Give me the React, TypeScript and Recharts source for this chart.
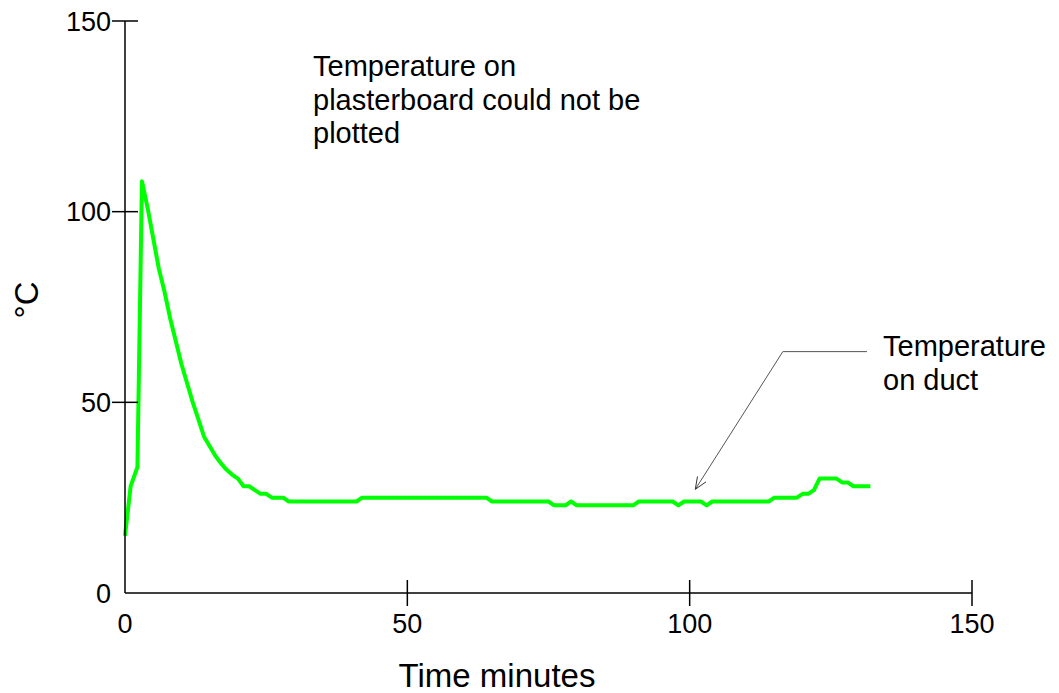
import { LineChart, Line, XAxis, YAxis, ReferenceLine } from "recharts";

const TIME = [0, 1, 2.2, 3, 4, 5, 6, 7, 8, 9, 10, 11, 12, 13, 14, 15, 16, 17, 18, 19, 20, 21, 22, 23, 24, 25, 26, 28, 29, 41, 42, 64, 65, 75, 76, 78, 79, 80, 90, 91, 97, 98, 99, 102, 103, 104, 114, 115, 119, 120, 121, 122, 123, 126, 127, 128, 129, 132];
const TEMP = [15, 28, 33, 108, 101, 93, 85, 79, 72, 66, 60, 55, 50, 45.5, 41, 38.5, 36, 34, 32.3, 31, 30, 28, 28, 27, 26, 26, 25, 25, 24, 24, 25, 25, 24, 24, 23, 23, 24, 23, 23, 24, 24, 23, 24, 24, 23, 24, 24, 25, 25, 26, 26, 27, 30, 30, 29, 29, 28, 28];

const X_TICKS = [0, 50, 100, 150];
const Y_TICKS = [0, 50, 100, 150];

// arrow pointing at the duct curve, in data units
const ARROW_ELBOW = { t: 116.5, v: 63.3 };
const ARROW_START = { t: 131.4, v: 63.3 };
const ARROW_TIP = { t: 101, v: 27.2 };

const data = TIME.map((t, i) => ({ t, temp: TEMP[i] }));

const FONT = "'Liberation Sans', Arial, sans-serif";

function YTick(props: any) {
  const { x, y, payload } = props;
  return (
    <g>
      {payload.value !== 0 && <line x1={x - 13} x2={x + 13} y1={y} y2={y} stroke="#000" strokeWidth={1.5} />}
      <text x={x - 14} y={y} dy="0.36em" textAnchor="end" fontSize={27} fontFamily={FONT} fill="#000">
        {payload.value}
      </text>
    </g>
  );
}

function XTick(props: any) {
  const { x, y, payload } = props;
  return (
    <g>
      {payload.value !== 0 && <line x1={x} x2={x} y1={y - 13} y2={y + 13} stroke="#000" strokeWidth={1.5} />}
      <text x={x} y={y + 40} textAnchor="middle" fontSize={27} fontFamily={FONT} fill="#000">
        {payload.value}
      </text>
    </g>
  );
}

function ArrowLine(props: any) {
  const { x1, y1, x2, y2 } = props;
  const ang = Math.atan2(y2 - y1, x2 - x1);
  const len = 13;
  const spread = 0.4;
  const ax = x2 - len * Math.cos(ang - spread);
  const ay = y2 - len * Math.sin(ang - spread);
  const bx = x2 - len * Math.cos(ang + spread);
  const by = y2 - len * Math.sin(ang + spread);
  return (
    <g>
      <line x1={x1} y1={y1} x2={x2} y2={y2} stroke="#555" strokeWidth={1} />
      <polyline points={`${ax},${ay} ${x2},${y2} ${bx},${by}`} fill="none" stroke="#333" strokeWidth={1} />
    </g>
  );
}

export default function App() {
  return (
    <div style={{ position: "absolute", left: 0, top: 0, width: 1059, height: 693, background: "#fff", fontFamily: FONT }}>
      <LineChart width={1059} height={693} data={data} margin={{ top: 21, right: 87, bottom: 0, left: 0 }}>
        <XAxis
          dataKey="t"
          type="number"
          domain={[0, 150]}
          ticks={X_TICKS}
          height={100}
          tickSize={0}
          tickMargin={0}
          tickLine={false}
          axisLine={{ stroke: "#000", strokeWidth: 1.5 }}
          tick={<XTick />}
        />
        <YAxis
          type="number"
          domain={[0, 150]}
          ticks={Y_TICKS}
          width={125}
          tickSize={0}
          tickMargin={0}
          tickLine={false}
          axisLine={{ stroke: "#000", strokeWidth: 1.5 }}
          tick={<YTick />}
        />
        <ReferenceLine
          segment={[{ x: ARROW_START.t, y: ARROW_START.v }, { x: ARROW_ELBOW.t, y: ARROW_ELBOW.v }]}
          stroke="#555"
          strokeWidth={1}
        />
        <ReferenceLine
          segment={[{ x: ARROW_ELBOW.t, y: ARROW_ELBOW.v }, { x: ARROW_TIP.t, y: ARROW_TIP.v }]}
          shape={<ArrowLine />}
        />
        <Line
          type="linear"
          dataKey="temp"
          stroke="#00ff00"
          strokeWidth={4}
          strokeLinejoin="round"
          dot={false}
          isAnimationActive={false}
        />
      </LineChart>

      <div style={{ position: "absolute", left: 313, top: 50, fontSize: 29, lineHeight: "33.5px", color: "#000" }}>
        Temperature on
        <br />
        plasterboard could not be
        <br />
        plotted
      </div>
      <div style={{ position: "absolute", left: 883, top: 330, fontSize: 29, lineHeight: "33.5px", color: "#000" }}>
        Temperature
        <br />
        on duct
      </div>
      <div
        style={{
          position: "absolute",
          left: 27,
          top: 300,
          fontSize: 33,
          color: "#000",
          transform: "translate(-50%, -50%) rotate(-90deg)",
          whiteSpace: "nowrap",
        }}
      >
        °C
      </div>
      <div
        style={{
          position: "absolute",
          left: 497,
          top: 676,
          fontSize: 33,
          color: "#000",
          transform: "translate(-50%, -50%)",
          whiteSpace: "nowrap",
        }}
      >
        Time minutes
      </div>
    </div>
  );
}
